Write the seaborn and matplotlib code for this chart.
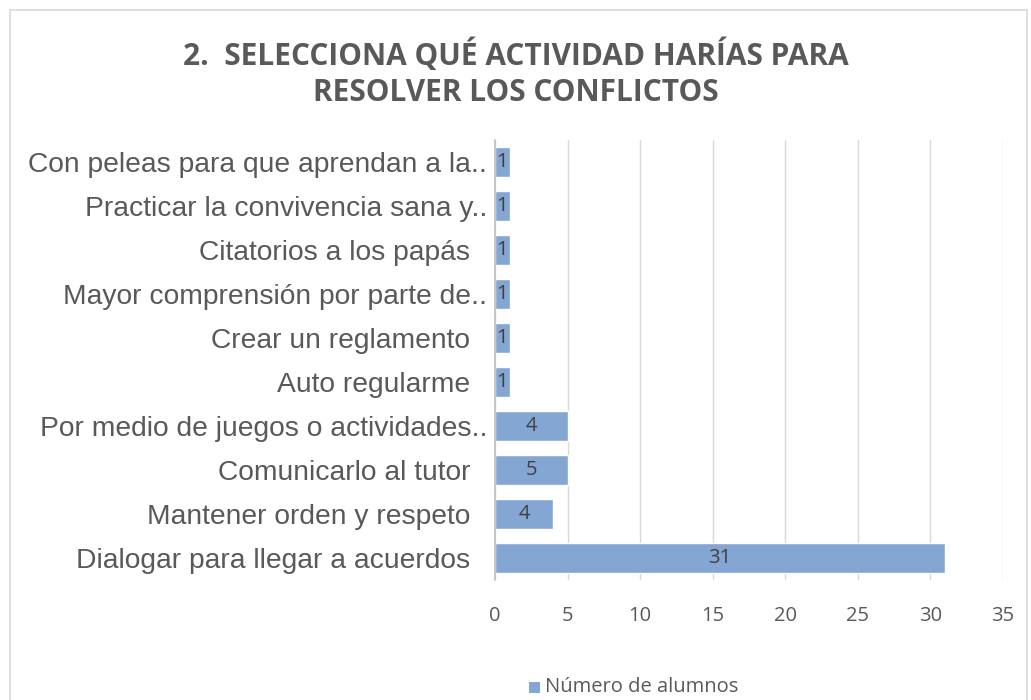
import matplotlib
matplotlib.use("Agg")
import matplotlib.pyplot as plt
import matplotlib.transforms as mtransforms
import seaborn as sns
import pandas as pd
from matplotlib.patches import Rectangle

categories = [
    "Con peleas para que aprendan a la..",
    "Practicar la convivencia sana y..",
    "Citatorios a los papás",
    "Mayor comprensión por parte de..",
    "Crear un reglamento",
    "Auto regularme",
    "Por medio de juegos o actividades..",
    "Comunicarlo al tutor",
    "Mantener orden y respeto",
    "Dialogar para llegar a acuerdos",
]
values = [1, 1, 1, 1, 1, 1, 5, 5, 4, 31]
value_labels = ["1", "1", "1", "1", "1", "1", "4", "5", "4", "31"]
series_name = "Número de alumnos"
x_ticks = [0, 5, 10, 15, 20, 25, 30, 35]
title = "2.  SELECCIONA QUÉ ACTIVIDAD HARÍAS PARA\nRESOLVER LOS CONFLICTOS"

df = pd.DataFrame({"cat": categories, "val": values, "serie": series_name})

sns.set_theme(style="white")
plt.rcParams["font.family"] = ["Open Sans", "DejaVu Sans"]

W, H = 1031, 700
fig = plt.figure(figsize=(W / 100, H / 100), dpi=100)
fig.patches.append(Rectangle((10 / W, -0.01), (1027 - 10) / W, (H - 10) / H + 0.01,
                             transform=fig.transFigure, fill=False,
                             edgecolor="#d9d9d9", linewidth=1.2))

ax = fig.add_axes([495 / W, 120 / H, (1003 - 495) / W, (580 - 140) / H])
bar_color = "#84A6D2"
sns.barplot(data=df, x="val", y="cat", hue="serie", palette=[bar_color],
            orient="h", width=0.68, ax=ax, legend=False, saturation=1)

ax.set_xlim(0, 35)
ax.set_xticks(x_ticks)
ax.set_xticklabels([str(t) for t in x_ticks], fontsize=14.5, color="#595959")
ax.tick_params(axis="x", length=0, pad=19)
ax.tick_params(axis="y", length=0, pad=18)
ax.set_yticks(range(len(categories)))
ax.set_yticklabels(categories, fontsize=20.3, color="#595959", family=["Liberation Sans", "DejaVu Sans"])
shift = mtransforms.ScaledTranslation(17 / 100, 0, fig.dpi_scale_trans)
for lab in ax.get_yticklabels():
    if lab.get_text().endswith(".."):
        lab.set_transform(lab.get_transform() + shift)
ax.set_xlabel("")
ax.set_ylabel("")
ax.grid(axis="x", color="#d9d9d9", linewidth=1)
ax.set_axisbelow(True)
for s in ["top", "right", "bottom"]:
    ax.spines[s].set_visible(False)
ax.spines["left"].set_color("#bfbfbf")
ax.spines["left"].set_linewidth(1.2)

for i, (v, lab) in enumerate(zip(values, value_labels)):
    ax.text(v / 2, i, lab, ha="center", va="center", fontsize=14.5, color="#404040")

fig.text(0.5, 1 - 73 / H, title, ha="center", va="center", fontsize=21.5, fontweight="bold",
         color="#595959", linespacing=1.25)

ly = 1 - 687 / H
fig.patches.append(Rectangle((529 / W, ly - 6 / H), 11 / W, 11 / H, transform=fig.transFigure,
                             facecolor=bar_color, edgecolor="none"))
fig.text(545 / W, ly, series_name, ha="left", va="center", fontsize=14.5, color="#595959")

fig.savefig("out.png", dpi=100)
